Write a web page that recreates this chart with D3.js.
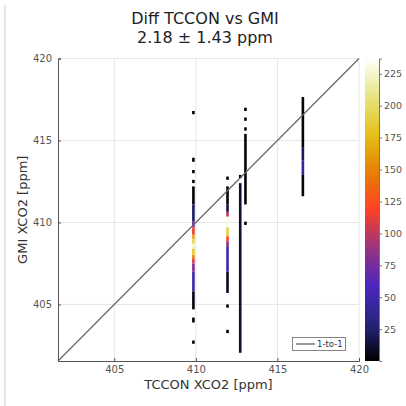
<!DOCTYPE html>
<html><head><meta charset="utf-8">
<script src="https://cdn.jsdelivr.net/npm/d3@7"></script>
<style>body{margin:0;background:#fff;}svg{display:block;font-family:"DejaVu Sans",sans-serif;}</style>
</head><body><svg id="c" width="406" height="406"></svg>
<script>
const titleLines = ["Diff TCCON vs GMI", "2.18 ± 1.43 ppm"];
const xLabel = "TCCON XCO2 [ppm]";
const yLabel = "GMI XCO2 [ppm]";
const axisDomain = [401.55, 420];
const axisTicks = [405, 410, 415, 420];
const colorTicks = [25, 50, 75, 100, 125, 150, 175, 200, 225];
const countMax = 237;
const binWidth = 0.16;
// column x centres (TCCON XCO2)
const columnX = [409.85, 411.94, 412.72, 413.04, 416.56];
// per column: [yTop, yBottom, count]
const col0 = [[416.8,416.6,1],[413.95,413.7,2],[413.2,413.0,1],[412.6,412.4,1],[412.2,411.1,2],[411.1,410.05,22],
  [410.05,409.7,70],[409.7,409.25,115],[409.25,409.0,165],[409.0,408.7,195],[408.7,408.4,225],[408.4,408.0,185],
  [408.0,407.8,150],[407.8,407.5,110],[407.5,407.0,80],[407.0,405.8,50],[405.8,404.7,4],[404.2,403.9,1],[402.8,402.6,1]];
const col1 = [[412.8,412.6,1],[412.2,411.1,3],[411.1,410.65,15],[410.65,410.35,100],[410.35,409.7,232],[409.7,409.15,190],
  [409.15,408.85,120],[408.85,408.55,85],[408.55,407.0,50],[407.0,405.7,8],[405.0,404.8,1],[403.45,403.25,1]];
const col2 = [[412.9,412.7,2],[412.4,402.05,12]];
const col3 = [[417.0,416.8,1],[416.4,416.2,1],[415.8,415.6,1],[415.4,411.1,3],[410.05,409.85,1]];
const col4 = [[417.65,414.6,3],[414.6,413.8,20],[413.8,412.9,40],[412.9,411.6,3]];
const columns = [col0, col1, col2, col3, col4];
const legendLabel = "1-to-1";

// CMRmap colormap
const cmr = {
  r:[0,0.15,0.30,0.60,1.00,0.90,0.90,0.90,1.0],
  g:[0,0.15,0.15,0.20,0.25,0.50,0.75,0.90,1.0],
  b:[0,0.50,0.75,0.50,0.15,0.00,0.10,0.50,1.0]};
const cmrColors = cmr.r.map((r,i)=>d3.rgb(r*255, cmr.g[i]*255, cmr.b[i]*255));
const cmrInterp = d3.piecewise(d3.interpolateRgb, cmrColors);
const color = d3.scaleSequential(cmrInterp).domain([0, countMax]);

const svg = d3.select("#c");
const L = 58, R = 359, T = 58.5, B = 361;
const x = d3.scaleLinear().domain(axisDomain).range([L, R]);
const y = d3.scaleLinear().domain(axisDomain).range([B, T]);

// outer frame line (left)
svg.append("line").attr("x1",5).attr("x2",5).attr("y1",5).attr("y2",406).attr("stroke","#ccc").attr("stroke-width",1);

// grid
const g = svg.append("g");
g.selectAll(".gx").data(axisTicks).enter().append("line")
  .attr("x1",d=>x(d)).attr("x2",d=>x(d)).attr("y1",T).attr("y2",B).attr("stroke","#e6e6e6").attr("stroke-width",1);
g.selectAll(".gy").data(axisTicks).enter().append("line")
  .attr("y1",d=>y(d)).attr("y2",d=>y(d)).attr("x1",L).attr("x2",R).attr("stroke","#e6e6e6").attr("stroke-width",1);

// heatmap cells
const cells = [];
columns.forEach((col,i)=>col.forEach(s=>cells.push({x:columnX[i], y0:s[0], y1:s[1], c:s[2]})));
svg.append("g").selectAll("rect").data(cells).enter().append("rect")
  .attr("x",d=>x(d.x - binWidth/2)).attr("width",d=>x(d.x+binWidth/2)-x(d.x-binWidth/2))
  .attr("y",d=>y(d.y0)).attr("height",d=>Math.max(y(d.y1)-y(d.y0),2))
  .attr("fill",d=>color(d.c));

// 1-to-1 line
svg.append("line").attr("x1",x(axisDomain[0])).attr("y1",y(axisDomain[0])).attr("x2",x(axisDomain[1])).attr("y2",y(axisDomain[1]))
  .attr("stroke","#666").attr("stroke-width",1.2);

// axes
const xAxis = d3.axisBottom(x).tickValues(axisTicks).tickSize(-3).tickPadding(5);
const yAxis = d3.axisLeft(y).tickValues(axisTicks).tickSize(-3).tickPadding(6);
const gx = svg.append("g").attr("transform",`translate(0,${B})`).call(xAxis);
const gy = svg.append("g").attr("transform",`translate(${L},0)`).call(yAxis);
[gx,gy].forEach(a=>{
  a.select(".domain").attr("stroke","#555").attr("stroke-width",1);
  a.selectAll(".tick line").attr("stroke","#555");
  a.selectAll("text").attr("fill","#555").style("font-size","10px").style("font-family","DejaVu Sans");
});
gx.selectAll("text").attr("y",5);

// labels
svg.append("text").attr("x",(L+R)/2).attr("y",389).attr("text-anchor","middle").attr("fill","#333")
  .style("font-size","13px").text(xLabel);
svg.append("text").attr("transform",`translate(27,${(T+B)/2}) rotate(-90)`).attr("text-anchor","middle").attr("fill","#333")
  .style("font-size","13px").text(yLabel);
titleLines.forEach((t,i)=>svg.append("text").attr("x",205).attr("y",24+i*19).attr("text-anchor","middle").attr("fill","#222")
  .style("font-size","16px").text(t));

// legend
const lg = svg.append("g");
lg.append("rect").attr("x",292.5).attr("y",337.5).attr("width",53).attr("height",13).attr("fill","#fff").attr("stroke","#666").attr("stroke-width",0.8);
lg.append("line").attr("x1",296).attr("x2",315).attr("y1",344).attr("y2",344).attr("stroke","#555").attr("stroke-width",1.2);
lg.append("text").attr("x",317).attr("y",347).attr("fill","#333").style("font-size","8.5px").text(legendLabel);

// colorbar
const cbL = 365, cbR = 379;
const cy = d3.scaleLinear().domain([0, countMax]).range([B, T]);
const defs = svg.append("defs");
const grad = defs.append("linearGradient").attr("id","cbg").attr("x1",0).attr("x2",0).attr("y1",1).attr("y2",0);
d3.range(0,1.0001,0.05).forEach(t=>grad.append("stop").attr("offset",t).attr("stop-color",cmrInterp(t)));
svg.append("rect").attr("x",cbL).attr("y",T).attr("width",cbR-cbL).attr("height",B-T).attr("fill","url(#cbg)");
const cAxis = d3.axisRight(cy).tickValues(colorTicks).tickSize(3).tickPadding(2);
const gc = svg.append("g").attr("transform",`translate(${cbR},0)`).call(cAxis);
gc.select(".domain").attr("stroke","#777");
gc.selectAll(".tick line").attr("stroke","#777");
gc.selectAll("text").attr("fill","#555").style("font-size","9.5px").style("font-family","DejaVu Sans");
</script></body></html>
